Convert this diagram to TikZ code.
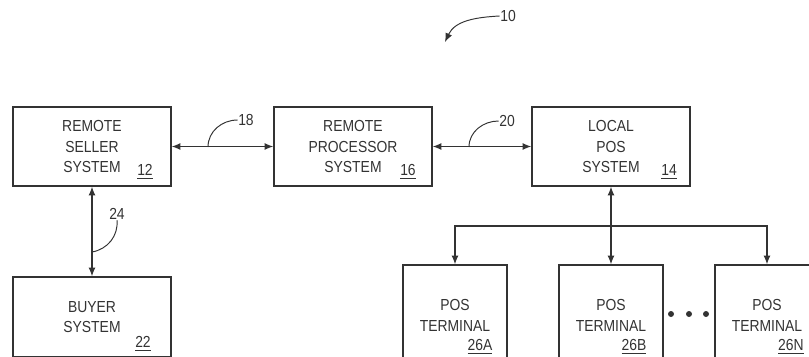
\documentclass[tikz,border=0pt]{standalone}
\usepackage{fontspec}
\setmainfont[FakeStretch=0.87]{Liberation Sans}
\usetikzlibrary{arrows.meta}

\begin{document}
\begin{tikzpicture}[x=0.02cm,y=-0.02cm,>={Latex[length=5pt,width=4pt]},line width=0.75pt,color=black!80,font=\fontsize{9.1}{11.6}\selectfont]
  \tikzstyle{block}=[draw,minimum width=3.16cm,minimum height=1.58cm,align=center,inner sep=0pt]
  \tikzstyle{terminal}=[block,minimum width=2.08cm,minimum height=2.02cm]
  \tikzstyle{refnum}=[inner sep=0pt]
  \tikzstyle{lead}=[line width=0.55pt]
  \useasboundingbox (0,0) rectangle (809,356);
  \clip (0,0) rectangle (809,356);
  % system blocks
  \node[block] (seller) at (92,146.5) {REMOTE\\SELLER\\SYSTEM};
  \node[block] (proc) at (353,146.5) {REMOTE\\PROCESSOR\\SYSTEM};
  \node[block] (local) at (611,146.5) {LOCAL\\POS\\SYSTEM};
  \node[block,minimum height=1.6cm] (buyer) at (92,317) {BUYER\\SYSTEM};
  \node[terminal] (termA) at (455,315.5) {POS\\TERMINAL};
  \node[terminal] (termB) at (611,315.5) {POS\\TERMINAL};
  \node[terminal] (termN) at (767,315.5) {POS\\TERMINAL};
  % reference numbers
  \node[refnum] (n12) at (145,172) {\underline{12}};
  \node[refnum] (n16) at (408,172) {\underline{16}};
  \node[refnum] (n14) at (669,172) {\underline{14}};
  \node[refnum] (n22) at (143,344) {\underline{22}};
  \node[refnum] (n26A) at (480,347) {\underline{26A}};
  \node[refnum] (n26B) at (634,347) {\underline{26B}};
  \node[refnum] (n26N) at (791,347) {\underline{26N}};
  \node[refnum] (n10) at (508,16) {10};
  \node[refnum] (n18) at (246,120) {18};
  \node[refnum] (n20) at (507,121) {20};
  \node[refnum] (n24) at (117,214) {24};
  % links
  \draw[<->] (seller) -- (proc);
  \draw[<->] (proc) -- (local);
  \draw[<->] (seller) -- (buyer);
  \draw[<->] (local) -- (termB);
  \coordinate (bus) at (611,226);
  \draw[->] (bus) -| (termA.north);
  \draw[->] (bus) -| (termN.north);
  % leaders
  \coordinate (c18) at (208,147);
  \coordinate (c20) at (469,147);
  \coordinate (c24) at (92,252);
  \coordinate (c10) at (445,42);
  \draw[lead] (c18) to[out=90,in=180] (n18.west);
  \draw[lead] (c20) to[out=90,in=180] (n20.west);
  \draw[lead] (c24) to[out=10,in=-85] (n24.south);
  \draw[lead,->] (n10.west) to[out=183,in=65] (c10);
  % more terminals
  \fill (671,314) circle (0.06cm);
  \fill (689,314) circle (0.06cm);
  \fill (706,314) circle (0.06cm);
\end{tikzpicture}
\end{document}
